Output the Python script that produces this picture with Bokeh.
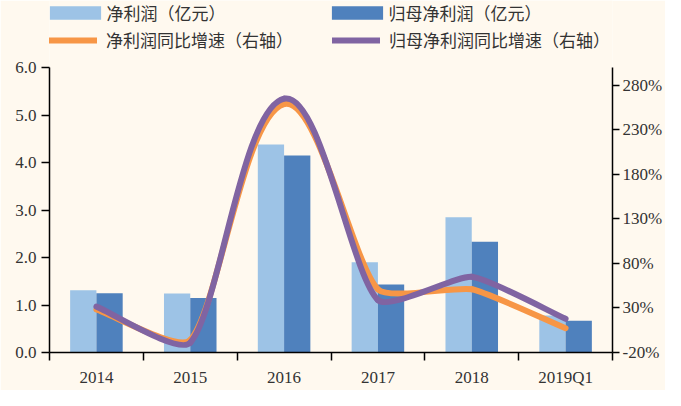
import math
from bokeh.plotting import figure
from bokeh.models import Range1d, LinearAxis, FixedTicker, Legend, LegendItem, ColumnDataSource
from bokeh.embed import file_html
from bokeh.resources import INLINE

# ---- data ----
categories = ["2014", "2015", "2016", "2017", "2018", "2019Q1"]
net_profit = [1.31, 1.24, 4.38, 1.90, 2.85, 0.78]          # 净利润（亿元）
parent_net_profit = [1.25, 1.15, 4.15, 1.43, 2.33, 0.67]   # 归母净利润（亿元）
net_growth = [28.3, -6.0, 259.0, 51.0, 51.0, 7.3]          # 净利润同比增速 %
parent_growth = [31.5, -9.0, 265.0, 39.0, 65.0, 17.8]      # 归母净利润同比增速 %
left_ticks = [0, 1, 2, 3, 4, 5, 6]
left_tick_labels = ["0.0", "1.0", "2.0", "3.0", "4.0", "5.0", "6.0"]
right_ticks = [-20, 30, 80, 130, 180, 230, 280]
right_tick_labels = ["-20%", "30%", "80%", "130%", "180%", "230%", "280%"]
left_bounds = (0, 6)
right_bounds = (-20, 300)
labels = ["净利润（亿元）", "归母净利润（亿元）", "净利润同比增速（右轴）", "归母净利润同比增速（右轴）"]

BG = "#FFF9EF"
C_LIGHT = "#9DC3E6"
C_DARK = "#4F81BD"
C_ORANGE = "#F79646"
C_PURPLE = "#8064A2"
NUM_FONT = "Liberation Serif"
CJK_FONT = "Noto Sans CJK SC"

W, H = 665, 390
ML, MR, MB = 49, 53, 38
TOP_PAD = 67                      # room above the axes' top for the legends (inside the frame)
FW, FH = W - ML - MR, H - MB
AXH = FH - TOP_PAD                # pixel height of the axes' extent
left_top = left_bounds[0] + (left_bounds[1] - left_bounds[0]) * FH / AXH
right_top = right_bounds[0] + (right_bounds[1] - right_bounds[0]) * FH / AXH

p = figure(width=W, height=H, x_range=Range1d(0, 6), y_range=Range1d(left_bounds[0], left_top),
           output_backend="svg", toolbar_location=None,
           background_fill_color=BG, border_fill_color=BG,
           min_border_left=ML, min_border_right=MR, min_border_top=0, min_border_bottom=MB)
p.title.visible = False
p.outline_line_color = None
p.xgrid.visible = False
p.ygrid.visible = False
p.extra_y_ranges = {"right": Range1d(right_bounds[0], right_top)}

# ---- bars ----
xc = [i + 0.5 for i in range(len(categories))]
bw = 0.28
r_light = p.vbar(x=[x - bw / 2 for x in xc], top=net_profit, width=bw,
                 fill_color=C_LIGHT, line_color=None)
r_dark = p.vbar(x=[x + bw / 2 for x in xc], top=parent_net_profit, width=bw,
                fill_color=C_DARK, line_color=None)

# ---- smoothed lines (Bezier segments through the data points) ----
SX = FW / 6.0
SY = AXH / float(right_bounds[1] - right_bounds[0])
TENSION = 1.0 / 6.0


def smooth(vals):
    n = len(vals)
    P = [(xc[i] * SX, v * SY) for i, v in enumerate(vals)]
    dirs = []
    for i in range(n):
        a = P[max(i - 1, 0)]
        b = P[min(i + 1, n - 1)]
        dx, dy = b[0] - a[0], b[1] - a[1]
        L = math.hypot(dx, dy)
        dirs.append((dx / L, dy / L))
    d = {k: [] for k in ("x0", "y0", "x1", "y1", "cx0", "cy0", "cx1", "cy1")}
    for i in range(n - 1):
        a, b = P[i], P[i + 1]
        L = math.hypot(b[0] - a[0], b[1] - a[1]) * TENSION
        c0 = (a[0] + dirs[i][0] * L, a[1] + dirs[i][1] * L)
        c1 = (b[0] - dirs[i + 1][0] * L, b[1] - dirs[i + 1][1] * L)
        d["x0"].append(a[0] / SX); d["y0"].append(a[1] / SY)
        d["x1"].append(b[0] / SX); d["y1"].append(b[1] / SY)
        d["cx0"].append(c0[0] / SX); d["cy0"].append(c0[1] / SY)
        d["cx1"].append(c1[0] / SX); d["cy1"].append(c1[1] / SY)
    return ColumnDataSource(d)


r_orange = p.bezier(x0="x0", y0="y0", x1="x1", y1="y1", cx0="cx0", cy0="cy0", cx1="cx1", cy1="cy1",
                    source=smooth(net_growth), y_range_name="right",
                    line_color=C_ORANGE, line_width=6, line_cap="round", line_join="round")
r_purple = p.bezier(x0="x0", y0="y0", x1="x1", y1="y1", cx0="cx0", cy0="cy0", cx1="cx1", cy1="cy1",
                    source=smooth(parent_growth), y_range_name="right",
                    line_color=C_PURPLE, line_width=6, line_cap="round", line_join="round")

# ---- axes ----
xa = p.xaxis[0]
xa.ticker = FixedTicker(ticks=xc, minor_ticks=list(range(7)))
xa.major_label_overrides = {x: c for x, c in zip(xc, categories)}
xa.major_tick_line_color = None
xa.major_tick_out = 5
xa.major_tick_in = 0
xa.minor_tick_out = 8
xa.minor_tick_in = 0
xa.minor_tick_line_color = "black"
xa.minor_tick_line_width = 1.5
xa.axis_line_color = "black"
xa.axis_line_width = 1.5
xa.major_label_standoff = 7
xa.major_label_text_font = NUM_FONT
xa.major_label_text_font_size = "17px"
xa.major_label_text_color = "#333333"

ya = p.yaxis[0]
ya.bounds = left_bounds
ya.ticker = FixedTicker(ticks=left_ticks)
ya.major_label_overrides = {t: s for t, s in zip(left_ticks, left_tick_labels)}
ya.major_tick_out = 8
ya.major_tick_in = 0
ya.major_tick_line_width = 1.5
ya.minor_tick_line_color = None
ya.axis_line_width = 1.5
ya.major_label_standoff = 5
ya.major_label_text_font = NUM_FONT
ya.major_label_text_font_size = "17px"
ya.major_label_text_color = "#333333"

ra = LinearAxis(y_range_name="right", bounds=right_bounds, ticker=FixedTicker(ticks=right_ticks),
                major_label_overrides={t: s for t, s in zip(right_ticks, right_tick_labels)})
ra.major_tick_out = 7
ra.major_tick_in = 0
ra.major_tick_line_width = 1.5
ra.minor_tick_line_color = None
ra.axis_line_width = 1.5
ra.major_label_standoff = 3
ra.major_label_text_font = NUM_FONT
ra.major_label_text_font_size = "17px"
ra.major_label_text_color = "#333333"
p.add_layout(ra, "right")

# ---- legends (inside the frame, above the axes' extent) ----
bar_legend = Legend(items=[LegendItem(label=labels[0], renderers=[r_light]),
                           LegendItem(label=labels[1], renderers=[r_dark])],
                    orientation="horizontal", location=(-6.4, FH - 25),
                    glyph_width=64, glyph_height=17, label_height=18, label_width=218,
                    label_standoff=0, spacing=0, padding=0, margin=0,
                    border_line_color=None, background_fill_alpha=0,
                    label_text_font=CJK_FONT, label_text_font_size="17px",
                    label_text_color="#333333")
line_legend = Legend(items=[LegendItem(label=labels[2], renderers=[r_orange]),
                            LegendItem(label=labels[3], renderers=[r_purple])],
                     orientation="horizontal", location=(0, FH - 52),
                     glyph_width=48, glyph_height=18, label_height=18, label_width=226,
                     label_standoff=9, spacing=0, padding=0, margin=0,
                     border_line_color=None, background_fill_alpha=0,
                     label_text_font=CJK_FONT, label_text_font_size="17px",
                     label_text_color="#333333")
p.add_layout(bar_legend, "center")
p.add_layout(line_legend, "center")

open("out.html", "w").write(file_html(p, INLINE))
